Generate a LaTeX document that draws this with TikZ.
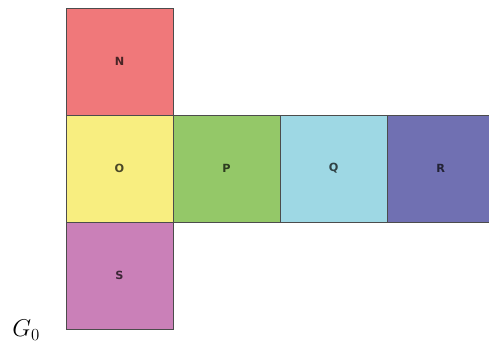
\documentclass[tikz,border=0pt]{standalone}
\usepackage{fontspec}
\setsansfont{DejaVu Sans}
\usepackage{xcolor}
\usepackage{tikz}
\usetikzlibrary{positioning}

\definecolor{colN}{RGB}{240,120,122}
\definecolor{colO}{RGB}{248,238,128}
\definecolor{colP}{RGB}{148,200,104}
\definecolor{colQ}{RGB}{158,216,228}
\definecolor{colR}{RGB}{112,112,178}
\definecolor{colS}{RGB}{202,128,184}

\begin{document}
\begin{tikzpicture}[
  x=0.025cm, y=0.025cm,
  font=\sffamily\bfseries\fontsize{8}{9}\selectfont,
  cell/.style={draw=black!70, line width=0.6pt, minimum size=2.675cm, inner sep=0pt, outer sep=0pt},
  node distance=0pt
]
\useasboundingbox (0,0) rectangle (489,343);
\node[cell, fill=colN, text=colN!30!black] (n) at (119.5,281.5) {N};
\node[cell, fill=colO, text=colO!30!black, below=of n] (o) {O};
\node[cell, fill=colS, text=colS!30!black, below=of o] (s) {S};
\node[cell, fill=colP, text=colP!30!black, right=of o] (p) {P};
\node[cell, fill=colQ, text=colQ!30!black, right=of p] (q) {Q};
\node[cell, fill=colR, text=colR!30!black, right=of q] (r) {R};
% graph label
\node[anchor=base west, inner sep=0pt, font=\fontsize{16.5}{18}\selectfont] (g) at (12,6) {$G_0$};
\end{tikzpicture}
\end{document}
